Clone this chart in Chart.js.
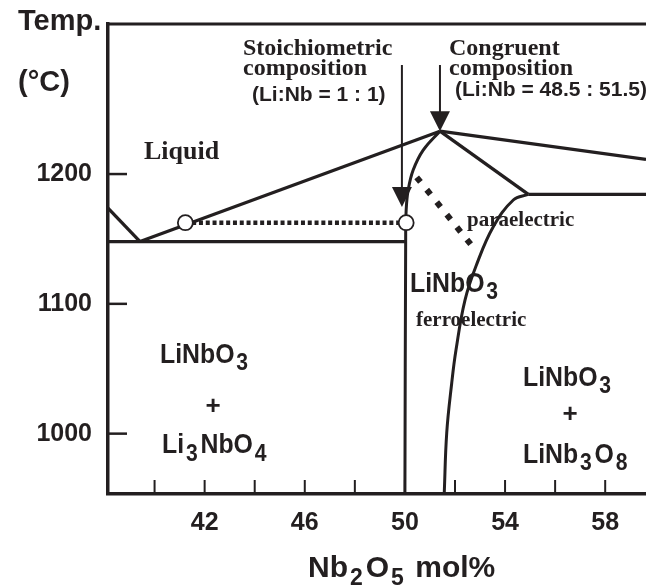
<!DOCTYPE html>
<html>
<head>
<meta charset="utf-8">
<script src="https://cdn.jsdelivr.net/npm/chart.js@4.4.1/dist/chart.umd.min.js"></script>
<style>
  html, body { margin: 0; padding: 0; background: #fff; overflow: hidden; }
  canvas { display: block; }
</style>
</head>
<body>
<canvas id="c" width="646" height="588"></canvas>
<script>
// Axis ranges: Nb2O5 mol% and temperature in °C
const xRange = [38.14, 59.63];
const yRange = [953.5, 1315.6];
const xTickLabels = [42, 46, 50, 54, 58];
const xMinorTicks = [40, 44, 48, 52, 56];
const yTicks = [1000, 1100, 1200];

// Phase boundaries of the Li2O–Nb2O5 system near LiNbO3
const liqLeftX = [38.14, 39.42];
const liqLeftT = [1173.8, 1148];
const liqMainX = [39.42, 51.4];
const liqMainT = [1148, 1233];
const liqRightX = [51.4, 59.63];
const liqRightT = [1233, 1211.3];
const periX = [51.4, 54.93];
const periT = [1233, 1184.4];
const eutX = [38.14, 50.03];
const eutT = [1148, 1148];
const periHX = [54.93, 59.63];
const periHT = [1184.4, 1184.4];
const solidusX = [51.4, 50.73, 50.33, 50.13, 50.05, 50.03, 50.0];
const solidusT = [1233, 1218.5, 1203.1, 1187.7, 1172.3, 1148, 953.5];
const solvusX = [54.93, 54.33, 53.53, 52.87, 52.40, 52.04, 51.87, 51.67, 51.57];
const solvusT = [1184.4, 1180.0, 1159.4, 1130.6, 1102.9, 1064.4, 1039.0, 1000.5, 953.5];
// Curie temperature line (ferroelectric / paraelectric)
const curieX = [50.47, 52.87];
const curieT = [1197.5, 1140.1];
// Tie line between the two open circles
const tieX = [41.23, 50.05];
const tieT = [1162.5, 1162.5];
// Composition arrows: x, top of shaft, tip
const arrowX = [49.88, 51.4];
const arrowTopT = [1284, 1284];
const arrowTipT = [1174.6, 1233];

const INK = '#231f20';
const SANS = '"Liberation Sans", Arial, Helvetica, sans-serif';
const SERIF = '"Liberation Serif", "Times New Roman", serif';

const pts = (xs, ys) => xs.map((x, i) => ({ x: x, y: ys[i] }));

function lineSet(xs, ys, extra) {
  return Object.assign({
    data: pts(xs, ys),
    showLine: true,
    borderColor: INK,
    borderWidth: 3.3,
    pointRadius: 0,
    pointHoverRadius: 0,
    tension: 0,
    fill: false,
    order: 2
  }, extra || {});
}

// Text with subscripts: segs = [[text, isSub], ...]
function rich(ctx, segs, x, y, size, subSize, subDy, sx) {
  ctx.save();
  ctx.translate(x, y);
  ctx.scale(sx, 1);
  ctx.fillStyle = INK;
  ctx.textBaseline = 'alphabetic';
  ctx.textAlign = 'left';
  let cx = 0;
  for (const [t, sub] of segs) {
    ctx.font = 'bold ' + (sub ? subSize : size) + 'px ' + SANS;
    if (sub) cx += 2;
    ctx.fillText(t, cx, sub ? subDy : 0);
    cx += ctx.measureText(t).width + (sub ? 3 : 0);
  }
  ctx.restore();
}

function text(ctx, t, x, y, font, align) {
  ctx.save();
  ctx.fillStyle = INK;
  ctx.font = font;
  ctx.textAlign = align || 'left';
  ctx.textBaseline = 'alphabetic';
  ctx.fillText(t, x, y);
  ctx.restore();
}

function noPad(s) {
  s.paddingLeft = 0;
  s.paddingRight = 0;
  s.paddingTop = 0;
  s.paddingBottom = 0;
}

const decorations = {
  id: 'decorations',
  afterDatasetsDraw(chart) {
    const ctx = chart.ctx;
    const xs = chart.scales.x, ys = chart.scales.y;
    const area = chart.chartArea;

    // top frame line
    ctx.save();
    ctx.strokeStyle = INK;
    ctx.lineWidth = 3;
    ctx.beginPath();
    ctx.moveTo(area.left - 1.5, area.top);
    ctx.lineTo(area.right, area.top);
    ctx.stroke();

    // inward tick marks
    ctx.lineWidth = 2;
    xTickLabels.concat(xMinorTicks).forEach(v => {
      const p = xs.getPixelForValue(v);
      ctx.beginPath();
      ctx.moveTo(p, area.bottom);
      ctx.lineTo(p, area.bottom - 14);
      ctx.stroke();
    });
    ctx.lineWidth = 2.5;
    yTicks.forEach(v => {
      const p = ys.getPixelForValue(v);
      ctx.beginPath();
      ctx.moveTo(area.left, p);
      ctx.lineTo(area.left + 19, p);
      ctx.stroke();
    });

    // composition arrows
    ctx.fillStyle = INK;
    arrowX.forEach((v, i) => {
      const x = xs.getPixelForValue(v);
      const top = ys.getPixelForValue(arrowTopT[i]);
      const tip = ys.getPixelForValue(arrowTipT[i]);
      ctx.lineWidth = 2;
      ctx.beginPath();
      ctx.moveTo(x, top);
      ctx.lineTo(x, tip - 18);
      ctx.stroke();
      ctx.beginPath();
      ctx.moveTo(x, tip);
      ctx.lineTo(x - 10, tip - 20);
      ctx.lineTo(x + 10, tip - 20);
      ctx.closePath();
      ctx.fill();
    });
    ctx.restore();

    // axis title (temperature)
    text(ctx, 'Temp.', 18, 30, 'bold 29px ' + SANS);
    text(ctx, '(°C)', 18, 91, 'bold 29px ' + SANS);

    // annotations of the two compositions
    const serif24 = 'bold 24px ' + SERIF;
    text(ctx, 'Stoichiometric', 243, 55, serif24);
    text(ctx, 'composition', 243, 75, serif24);
    text(ctx, '(Li:Nb = 1 : 1)', 252, 101, 'bold 21px ' + SANS);
    text(ctx, 'Congruent', 449, 55, serif24);
    text(ctx, 'composition', 449, 75, serif24);
    text(ctx, '(Li:Nb = 48.5 : 51.5)', 455, 96, 'bold 21px ' + SANS);

    // phase field labels
    text(ctx, 'Liquid', 144, 159, 'bold 26px ' + SERIF);
    text(ctx, 'paraelectric', 467, 226, 'bold 21px ' + SERIF);
    text(ctx, 'ferroelectric', 416, 326, 'bold 21px ' + SERIF);

    rich(ctx, [['LiNbO', 0], ['3', 1]], 410, 292, 27, 23, 7, 0.92);
    rich(ctx, [['LiNbO', 0], ['3', 1]], 160, 363, 27, 23, 7, 0.92);
    text(ctx, '+', 213, 414, 'bold 26px ' + SANS, 'center');
    rich(ctx, [['Li', 0], ['3', 1], ['NbO', 0], ['4', 1]], 162, 453, 27, 23, 8, 0.92);
    rich(ctx, [['LiNbO', 0], ['3', 1]], 523, 386, 27, 23, 7, 0.92);
    text(ctx, '+', 570, 422, 'bold 26px ' + SANS, 'center');
    rich(ctx, [['LiNb', 0], ['3', 1], ['O', 0], ['8', 1]], 523, 463, 27, 23, 7, 0.92);

    // axis title (composition)
    rich(ctx, [['Nb', 0], ['2', 1], ['O', 0], ['5', 1], [' mol%', 0]], 308, 577, 30, 23, 8, 1);
  }
};

new Chart(document.getElementById('c'), {
  type: 'scatter',
  data: {
    datasets: [
      // open circles on the tie line
      {
        data: pts(tieX, tieT),
        showLine: false,
        pointRadius: 7.5,
        pointHoverRadius: 7.5,
        pointBackgroundColor: '#ffffff',
        pointBorderColor: INK,
        pointBorderWidth: 1.8,
        order: 0
      },
      lineSet(tieX, tieT, { borderWidth: 4.5, borderDash: [4, 2.8], order: 1 }),
      lineSet(curieX, curieT, { borderWidth: 6, borderDash: [6, 10], order: 1 }),
      lineSet(liqLeftX, liqLeftT),
      lineSet(liqMainX, liqMainT),
      lineSet(liqRightX, liqRightT),
      lineSet(periX, periT),
      lineSet(eutX, eutT),
      lineSet(periHX, periHT),
      lineSet(solidusX, solidusT, { tension: 0.4, borderWidth: 3 }),
      lineSet(solvusX, solvusT, { tension: 0.4, borderWidth: 3 })
    ]
  },
  options: {
    responsive: false,
    devicePixelRatio: 1,
    animation: false,
    events: [],
    layout: { autoPadding: false, padding: { left: 0, right: 0, top: 24, bottom: 0 } },
    plugins: {
      legend: { display: false },
      tooltip: { enabled: false },
      title: { display: false }
    },
    scales: {
      x: {
        type: 'linear',
        min: xRange[0],
        max: xRange[1],
        grid: { display: false, drawTicks: false },
        border: { display: true, color: INK, width: 3.5 },
        afterBuildTicks: s => { s.ticks = xTickLabels.map(v => ({ value: v })); },
        afterFit: s => { s.height = 94; noPad(s); },
        ticks: {
          color: INK,
          padding: 0,
          maxRotation: 0,
          font: { family: SANS, size: 25, weight: 'bold', lineHeight: 2.32 },
          callback: v => String(v)
        }
      },
      y: {
        type: 'linear',
        min: yRange[0],
        max: yRange[1],
        grid: { display: false, drawTicks: false },
        border: { display: true, color: INK, width: 3.5 },
        afterBuildTicks: s => { s.ticks = yTicks.map(v => ({ value: v })); },
        afterFit: s => { s.width = 108; noPad(s); },
        ticks: {
          color: INK,
          padding: 16,
          font: { family: SANS, size: 25, weight: 'bold' },
          callback: v => String(v)
        }
      }
    }
  },
  plugins: [decorations]
});
</script>
</body>
</html>
